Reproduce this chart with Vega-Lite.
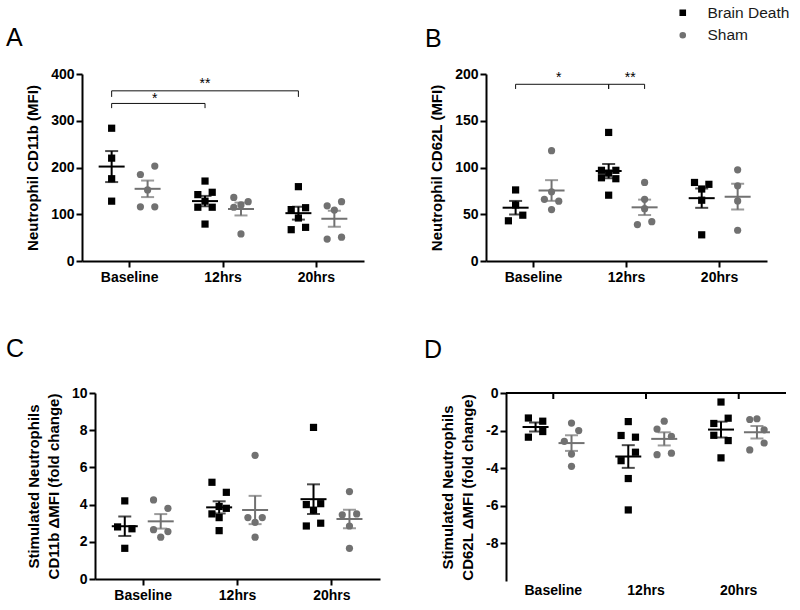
{
  "$schema": "https://vega.github.io/schema/vega-lite/v6.json",
  "padding": {"left": 6, "top": 5, "right": 5, "bottom": 5},
  "config": {
    "font": "Liberation Sans",
    "view": {"stroke": null},
    "axis": {"grid": false, "domainColor": "#000", "domainWidth": 2, "tickColor": "#000", "tickWidth": 2, "tickSize": 6,
      "labelFont": "Liberation Sans", "labelFontWeight": "bold", "labelFontSize": 14, "labelColor": "#000", "labelOverlap": false,
      "titleFont": "Liberation Sans", "titleFontWeight": "bold", "titleFontSize": 15, "titleColor": "#000", "titleLineHeight": 20},
    "axisY": {"labelPadding": 2, "titlePadding": 10},
    "axisX": {"labelPadding": 3, "labelAngle": 0},
    "title": {"font": "Liberation Sans", "fontSize": 25, "fontWeight": "normal", "anchor": "start", "color": "#000", "frame": "bounds"},
    "legend": {"orient": "none", "legendX": 669, "legendY": -69, "title": null, "labelFontSize": 15.5, "labelFontWeight": "normal", "labelFont": "Liberation Sans", "labelColor": "#1a1a1a", "symbolSize": 26, "rowPadding": 5.5, "labelOffset": 17, "padding": 0}
  },
  "datasets": {
    "A": [
      {"time": "Baseline", "group": "Brain Death", "slot": "Brain Death", "value": 284},
      {"time": "Baseline", "group": "Brain Death", "slot": "Brain Death", "value": 220},
      {"time": "Baseline", "group": "Brain Death", "slot": "Brain Death", "value": 176},
      {"time": "Baseline", "group": "Brain Death", "slot": "Brain Death", "value": 128},
      {"time": "Baseline", "group": "Sham", "slot": "S+1", "value": 203},
      {"time": "Baseline", "group": "Sham", "slot": "S-1", "value": 185},
      {"time": "Baseline", "group": "Sham", "slot": "Sham", "value": 152},
      {"time": "Baseline", "group": "Sham", "slot": "S-1", "value": 116},
      {"time": "Baseline", "group": "Sham", "slot": "S+1", "value": 116},
      {"time": "12hrs", "group": "Brain Death", "slot": "Brain Death", "value": 171},
      {"time": "12hrs", "group": "Brain Death", "slot": "B-1", "value": 142},
      {"time": "12hrs", "group": "Brain Death", "slot": "B+1", "value": 147},
      {"time": "12hrs", "group": "Brain Death", "slot": "Brain Death", "value": 128},
      {"time": "12hrs", "group": "Brain Death", "slot": "B-1", "value": 115},
      {"time": "12hrs", "group": "Brain Death", "slot": "B+1", "value": 115},
      {"time": "12hrs", "group": "Brain Death", "slot": "Brain Death", "value": 79},
      {"time": "12hrs", "group": "Sham", "slot": "S-1", "value": 136},
      {"time": "12hrs", "group": "Sham", "slot": "S+1", "value": 127},
      {"time": "12hrs", "group": "Sham", "slot": "Sham", "value": 120},
      {"time": "12hrs", "group": "Sham", "slot": "S-1", "value": 115},
      {"time": "12hrs", "group": "Sham", "slot": "Sham", "value": 58},
      {"time": "20hrs", "group": "Brain Death", "slot": "Brain Death", "value": 159},
      {"time": "20hrs", "group": "Brain Death", "slot": "B-1", "value": 110},
      {"time": "20hrs", "group": "Brain Death", "slot": "B+1", "value": 114},
      {"time": "20hrs", "group": "Brain Death", "slot": "Brain Death", "value": 92},
      {"time": "20hrs", "group": "Brain Death", "slot": "B-1", "value": 67},
      {"time": "20hrs", "group": "Brain Death", "slot": "B+1", "value": 72},
      {"time": "20hrs", "group": "Sham", "slot": "S-1", "value": 118},
      {"time": "20hrs", "group": "Sham", "slot": "S+1", "value": 127},
      {"time": "20hrs", "group": "Sham", "slot": "Sham", "value": 109},
      {"time": "20hrs", "group": "Sham", "slot": "S-1", "value": 47},
      {"time": "20hrs", "group": "Sham", "slot": "S+1", "value": 51}
    ],
    "B": [
      {"time": "Baseline", "group": "Brain Death", "slot": "Brain Death", "value": 76},
      {"time": "Baseline", "group": "Brain Death", "slot": "Brain Death", "value": 60},
      {"time": "Baseline", "group": "Brain Death", "slot": "B+1", "value": 49},
      {"time": "Baseline", "group": "Brain Death", "slot": "B-1", "value": 43},
      {"time": "Baseline", "group": "Sham", "slot": "Sham", "value": 118},
      {"time": "Baseline", "group": "Sham", "slot": "Sham", "value": 74},
      {"time": "Baseline", "group": "Sham", "slot": "S-1", "value": 66},
      {"time": "Baseline", "group": "Sham", "slot": "S+1", "value": 64},
      {"time": "Baseline", "group": "Sham", "slot": "Sham", "value": 55},
      {"time": "12hrs", "group": "Brain Death", "slot": "Brain Death", "value": 137.5},
      {"time": "12hrs", "group": "Brain Death", "slot": "B-1", "value": 97},
      {"time": "12hrs", "group": "Brain Death", "slot": "B+1", "value": 97},
      {"time": "12hrs", "group": "Brain Death", "slot": "Brain Death", "value": 94},
      {"time": "12hrs", "group": "Brain Death", "slot": "B-1", "value": 89},
      {"time": "12hrs", "group": "Brain Death", "slot": "B+1", "value": 88},
      {"time": "12hrs", "group": "Brain Death", "slot": "Brain Death", "value": 70.4},
      {"time": "12hrs", "group": "Sham", "slot": "Sham", "value": 84},
      {"time": "12hrs", "group": "Sham", "slot": "Sham", "value": 66},
      {"time": "12hrs", "group": "Sham", "slot": "Sham", "value": 56},
      {"time": "12hrs", "group": "Sham", "slot": "S-1", "value": 39},
      {"time": "12hrs", "group": "Sham", "slot": "S+1", "value": 42},
      {"time": "20hrs", "group": "Brain Death", "slot": "B-1", "value": 84},
      {"time": "20hrs", "group": "Brain Death", "slot": "B+1", "value": 82},
      {"time": "20hrs", "group": "Brain Death", "slot": "Brain Death", "value": 77},
      {"time": "20hrs", "group": "Brain Death", "slot": "Brain Death", "value": 65},
      {"time": "20hrs", "group": "Brain Death", "slot": "Brain Death", "value": 28},
      {"time": "20hrs", "group": "Sham", "slot": "Sham", "value": 97.5},
      {"time": "20hrs", "group": "Sham", "slot": "Sham", "value": 80.4},
      {"time": "20hrs", "group": "Sham", "slot": "Sham", "value": 64.3},
      {"time": "20hrs", "group": "Sham", "slot": "Sham", "value": 32.9}
    ],
    "C": [
      {"time": "Baseline", "group": "Brain Death", "slot": "Brain Death", "value": 4.2},
      {"time": "Baseline", "group": "Brain Death", "slot": "B-1", "value": 2.8},
      {"time": "Baseline", "group": "Brain Death", "slot": "B+1", "value": 2.7},
      {"time": "Baseline", "group": "Brain Death", "slot": "Brain Death", "value": 1.65},
      {"time": "Baseline", "group": "Sham", "slot": "S-1", "value": 4.25},
      {"time": "Baseline", "group": "Sham", "slot": "S+1", "value": 3.8},
      {"time": "Baseline", "group": "Sham", "slot": "S-1", "value": 2.65},
      {"time": "Baseline", "group": "Sham", "slot": "S+1", "value": 2.55},
      {"time": "Baseline", "group": "Sham", "slot": "Sham", "value": 2.25},
      {"time": "12hrs", "group": "Brain Death", "slot": "B-1", "value": 5.2},
      {"time": "12hrs", "group": "Brain Death", "slot": "B+1", "value": 4.66},
      {"time": "12hrs", "group": "Brain Death", "slot": "Brain Death", "value": 3.9},
      {"time": "12hrs", "group": "Brain Death", "slot": "B+1", "value": 3.8},
      {"time": "12hrs", "group": "Brain Death", "slot": "B-1", "value": 3.5},
      {"time": "12hrs", "group": "Brain Death", "slot": "Brain Death", "value": 3.3},
      {"time": "12hrs", "group": "Brain Death", "slot": "Brain Death", "value": 2.6},
      {"time": "12hrs", "group": "Sham", "slot": "Sham", "value": 6.65},
      {"time": "12hrs", "group": "Sham", "slot": "S-1", "value": 3.3},
      {"time": "12hrs", "group": "Sham", "slot": "S+1", "value": 3.3},
      {"time": "12hrs", "group": "Sham", "slot": "Sham", "value": 3.05},
      {"time": "12hrs", "group": "Sham", "slot": "Sham", "value": 2.25},
      {"time": "20hrs", "group": "Brain Death", "slot": "Brain Death", "value": 8.15},
      {"time": "20hrs", "group": "Brain Death", "slot": "B-1", "value": 4.0},
      {"time": "20hrs", "group": "Brain Death", "slot": "B+1", "value": 4.05},
      {"time": "20hrs", "group": "Brain Death", "slot": "Brain Death", "value": 3.7},
      {"time": "20hrs", "group": "Brain Death", "slot": "B-1", "value": 2.85},
      {"time": "20hrs", "group": "Brain Death", "slot": "B+1", "value": 3.0},
      {"time": "20hrs", "group": "Sham", "slot": "Sham", "value": 4.7},
      {"time": "20hrs", "group": "Sham", "slot": "S-1", "value": 3.45},
      {"time": "20hrs", "group": "Sham", "slot": "S+1", "value": 3.5},
      {"time": "20hrs", "group": "Sham", "slot": "Sham", "value": 2.85},
      {"time": "20hrs", "group": "Sham", "slot": "Sham", "value": 1.65}
    ],
    "D": [
      {"time": "Baseline", "group": "Brain Death", "slot": "B-1", "value": -1.33},
      {"time": "Baseline", "group": "Brain Death", "slot": "B+1", "value": -1.5},
      {"time": "Baseline", "group": "Brain Death", "slot": "B+1", "value": -2.05},
      {"time": "Baseline", "group": "Brain Death", "slot": "B-1", "value": -2.35},
      {"time": "Baseline", "group": "Sham", "slot": "Sham", "value": -1.6},
      {"time": "Baseline", "group": "Sham", "slot": "S+1", "value": -2.0},
      {"time": "Baseline", "group": "Sham", "slot": "S-1", "value": -2.57},
      {"time": "Baseline", "group": "Sham", "slot": "Sham", "value": -3.25},
      {"time": "Baseline", "group": "Sham", "slot": "Sham", "value": -3.9},
      {"time": "12hrs", "group": "Brain Death", "slot": "Brain Death", "value": -1.52},
      {"time": "12hrs", "group": "Brain Death", "slot": "B-1", "value": -2.26},
      {"time": "12hrs", "group": "Brain Death", "slot": "B+1", "value": -2.35},
      {"time": "12hrs", "group": "Brain Death", "slot": "B+1", "value": -3.15},
      {"time": "12hrs", "group": "Brain Death", "slot": "B-1", "value": -3.6},
      {"time": "12hrs", "group": "Brain Death", "slot": "Brain Death", "value": -4.55},
      {"time": "12hrs", "group": "Brain Death", "slot": "Brain Death", "value": -6.22},
      {"time": "12hrs", "group": "Sham", "slot": "Sham", "value": -1.5},
      {"time": "12hrs", "group": "Sham", "slot": "S-1", "value": -1.92},
      {"time": "12hrs", "group": "Sham", "slot": "S+1", "value": -2.3},
      {"time": "12hrs", "group": "Sham", "slot": "S-1", "value": -3.28},
      {"time": "12hrs", "group": "Sham", "slot": "S+1", "value": -3.2},
      {"time": "20hrs", "group": "Brain Death", "slot": "Brain Death", "value": -0.48},
      {"time": "20hrs", "group": "Brain Death", "slot": "B+1", "value": -1.34},
      {"time": "20hrs", "group": "Brain Death", "slot": "B-1", "value": -1.62},
      {"time": "20hrs", "group": "Brain Death", "slot": "B-1", "value": -2.25},
      {"time": "20hrs", "group": "Brain Death", "slot": "B+1", "value": -2.53},
      {"time": "20hrs", "group": "Brain Death", "slot": "Brain Death", "value": -3.45},
      {"time": "20hrs", "group": "Sham", "slot": "S-1", "value": -1.41},
      {"time": "20hrs", "group": "Sham", "slot": "Sham", "value": -1.37},
      {"time": "20hrs", "group": "Sham", "slot": "S+1", "value": -1.96},
      {"time": "20hrs", "group": "Sham", "slot": "S+1", "value": -2.66},
      {"time": "20hrs", "group": "Sham", "slot": "S-1", "value": -3.03}
    ],
    "bracketA": [
      {"id": "a1", "step": 0, "time": "Baseline", "slot": "Brain Death", "value": 327},
      {"id": "a1", "step": 1, "time": "Baseline", "slot": "Brain Death", "value": 337},
      {"id": "a1", "step": 2, "time": "12hrs", "slot": "Brain Death", "value": 337},
      {"id": "a1", "step": 3, "time": "12hrs", "slot": "Brain Death", "value": 327},
      {"id": "a2", "step": 0, "time": "Baseline", "slot": "Brain Death", "value": 351},
      {"id": "a2", "step": 1, "time": "Baseline", "slot": "Brain Death", "value": 364},
      {"id": "a2", "step": 2, "time": "20hrs", "slot": "Brain Death", "value": 364},
      {"id": "a2", "step": 3, "time": "20hrs", "slot": "Brain Death", "value": 351}
    ],
    "starA": [
      {"time": "Baseline", "slot": "S+1", "value": 337, "label": "*"},
      {"time": "12hrs", "slot": "Brain Death", "value": 370, "label": "**"}
    ],
    "bracketB": [
      {"id": "b1", "step": 0, "time": "Baseline", "slot": "Brain Death", "value": 184},
      {"id": "b1", "step": 1, "time": "Baseline", "slot": "Brain Death", "value": 189},
      {"id": "b1", "step": 2, "time": "12hrs", "slot": "Brain Death", "value": 189},
      {"id": "b1", "step": 3, "time": "12hrs", "slot": "Brain Death", "value": 184},
      {"id": "b2", "step": 0, "time": "12hrs", "slot": "Brain Death", "value": 184},
      {"id": "b2", "step": 1, "time": "12hrs", "slot": "Brain Death", "value": 189},
      {"id": "b2", "step": 2, "time": "12hrs", "slot": "Sham", "value": 189},
      {"id": "b2", "step": 3, "time": "12hrs", "slot": "Sham", "value": 184}
    ],
    "starB": [
      {"time": "Baseline", "slot": "S+1", "value": 191, "label": "*"},
      {"time": "12hrs", "slot": "S-2", "value": 191, "label": "**"}
    ],
    "topline": [{"value": 0}]
  },
  "spacing": 53,
  "vconcat": [
    {
      "spacing": 0,
      "hconcat": [
        {"width": 19, "height": 187, "title": {"text": "A", "offset": 23}, "data": {"values": []}, "mark": "point"},
        {
          "width": 343, "height": 187,
          "encoding": {"x": {"field": "time", "type": "nominal", "sort": ["Baseline", "12hrs", "20hrs"], "scale": {"paddingInner": 0.23, "paddingOuter": 0.125, "range": [0, 282]}, "axis": {"title": null}}},
          "layer": [
            {"data": {"name": "A"}, "mark": {"type": "point", "filled": true, "size": 52, "opacity": 1},
              "encoding": {
                "xOffset": {"field": "slot", "type": "nominal", "scale": {"domain": ["B-2", "B-1", "Brain Death", "B+1", "B+2", "S-2", "S-1", "Sham", "S+1", "S+2"], "paddingInner": 0, "paddingOuter": 0}},
                "y": {"field": "value", "type": "quantitative", "title": "Neutrophil CD11b (MFI)", "scale": {"domain": [0, 400], "nice": false}, "axis": {"values": [0, 100, 200, 300, 400]}},
                "color": {"field": "group", "type": "nominal", "scale": {"domain": ["Brain Death", "Sham"], "range": ["#000000", "#717171"]}},
                "shape": {"field": "group", "type": "nominal", "scale": {"domain": ["Brain Death", "Sham"], "range": ["square", "circle"]}}}},
            {"data": {"name": "A"}, "mark": {"type": "errorbar", "extent": "stderr", "ticks": true, "size": 13, "thickness": 2},
              "encoding": {
                "xOffset": {"field": "group", "type": "nominal", "scale": {"domain": ["B-2", "B-1", "Brain Death", "B+1", "B+2", "S-2", "S-1", "Sham", "S+1", "S+2"], "paddingInner": 0, "paddingOuter": 0}},
                "y": {"field": "value", "type": "quantitative", "title": "Neutrophil CD11b (MFI)", "scale": {"domain": [0, 400], "nice": false}, "axis": {"values": [0, 100, 200, 300, 400]}},
                "color": {"field": "group", "type": "nominal"}}},
            {"data": {"name": "A"}, "mark": {"type": "tick", "size": 26, "thickness": 2},
              "encoding": {
                "xOffset": {"field": "group", "type": "nominal", "scale": {"domain": ["B-2", "B-1", "Brain Death", "B+1", "B+2", "S-2", "S-1", "Sham", "S+1", "S+2"], "paddingInner": 0, "paddingOuter": 0}},
                "y": {"aggregate": "mean", "field": "value", "type": "quantitative", "title": "Neutrophil CD11b (MFI)", "scale": {"domain": [0, 400], "nice": false}, "axis": {"values": [0, 100, 200, 300, 400]}},
                "color": {"field": "group", "type": "nominal"}}},
            {"data": {"name": "bracketA"}, "mark": {"type": "line", "color": "#111", "strokeWidth": 1},
              "encoding": {
                "x": {"field": "time", "type": "nominal", "sort": ["Baseline", "12hrs", "20hrs"], "bandPosition": 0.5},
                "xOffset": {"field": "slot", "type": "nominal", "scale": {"domain": ["B-2", "B-1", "Brain Death", "B+1", "B+2", "S-2", "S-1", "Sham", "S+1", "S+2"], "paddingInner": 0, "paddingOuter": 0}},
                "y": {"field": "value", "type": "quantitative", "title": "Neutrophil CD11b (MFI)", "scale": {"domain": [0, 400], "nice": false}, "axis": {"values": [0, 100, 200, 300, 400]}},
                "detail": {"field": "id"}, "order": {"field": "step"}}},
            {"data": {"name": "starA"}, "mark": {"type": "text", "fontSize": 14, "baseline": "alphabetic", "color": "#000"},
              "encoding": {
                "xOffset": {"field": "slot", "type": "nominal", "scale": {"domain": ["B-2", "B-1", "Brain Death", "B+1", "B+2", "S-2", "S-1", "Sham", "S+1", "S+2"], "paddingInner": 0, "paddingOuter": 0}},
                "y": {"field": "value", "type": "quantitative", "title": "Neutrophil CD11b (MFI)", "scale": {"domain": [0, 400], "nice": false}, "axis": {"values": [0, 100, 200, 300, 400]}},
                "text": {"field": "label"}}}
          ]
        },
        {
          "width": 281, "height": 187,
          "title": {"text": "B", "dx": -4.6, "offset": 15},
          "encoding": {"x": {"field": "time", "type": "nominal", "sort": ["Baseline", "12hrs", "20hrs"], "scale": {"paddingInner": 0.23, "paddingOuter": 0.125}, "axis": {"title": null}}},
          "layer": [
            {"data": {"name": "B"}, "mark": {"type": "point", "filled": true, "size": 52, "opacity": 1},
              "encoding": {
                "xOffset": {"field": "slot", "type": "nominal", "scale": {"domain": ["B-2", "B-1", "Brain Death", "B+1", "B+2", "S-2", "S-1", "Sham", "S+1", "S+2"], "paddingInner": 0, "paddingOuter": 0}},
                "y": {"field": "value", "type": "quantitative", "title": "Neutrophil CD62L (MFI)", "scale": {"domain": [0, 200], "nice": false}, "axis": {"values": [0, 50, 100, 150, 200]}},
                "color": {"field": "group", "type": "nominal", "scale": {"domain": ["Brain Death", "Sham"], "range": ["#000000", "#717171"]}},
                "shape": {"field": "group", "type": "nominal", "scale": {"domain": ["Brain Death", "Sham"], "range": ["square", "circle"]}}}},
            {"data": {"name": "B"}, "mark": {"type": "errorbar", "extent": "stderr", "ticks": true, "size": 13, "thickness": 2},
              "encoding": {
                "xOffset": {"field": "group", "type": "nominal", "scale": {"domain": ["B-2", "B-1", "Brain Death", "B+1", "B+2", "S-2", "S-1", "Sham", "S+1", "S+2"], "paddingInner": 0, "paddingOuter": 0}},
                "y": {"field": "value", "type": "quantitative", "title": "Neutrophil CD62L (MFI)", "scale": {"domain": [0, 200], "nice": false}, "axis": {"values": [0, 50, 100, 150, 200]}},
                "color": {"field": "group", "type": "nominal"}}},
            {"data": {"name": "B"}, "mark": {"type": "tick", "size": 26, "thickness": 2},
              "encoding": {
                "xOffset": {"field": "group", "type": "nominal", "scale": {"domain": ["B-2", "B-1", "Brain Death", "B+1", "B+2", "S-2", "S-1", "Sham", "S+1", "S+2"], "paddingInner": 0, "paddingOuter": 0}},
                "y": {"aggregate": "mean", "field": "value", "type": "quantitative", "title": "Neutrophil CD62L (MFI)", "scale": {"domain": [0, 200], "nice": false}, "axis": {"values": [0, 50, 100, 150, 200]}},
                "color": {"field": "group", "type": "nominal"}}},
            {"data": {"name": "bracketB"}, "mark": {"type": "line", "color": "#111", "strokeWidth": 1},
              "encoding": {
                "x": {"field": "time", "type": "nominal", "sort": ["Baseline", "12hrs", "20hrs"], "bandPosition": 0.5},
                "xOffset": {"field": "slot", "type": "nominal", "scale": {"domain": ["B-2", "B-1", "Brain Death", "B+1", "B+2", "S-2", "S-1", "Sham", "S+1", "S+2"], "paddingInner": 0, "paddingOuter": 0}},
                "y": {"field": "value", "type": "quantitative", "title": "Neutrophil CD62L (MFI)", "scale": {"domain": [0, 200], "nice": false}, "axis": {"values": [0, 50, 100, 150, 200]}},
                "detail": {"field": "id"}, "order": {"field": "step"}}},
            {"data": {"name": "starB"}, "mark": {"type": "text", "fontSize": 14, "baseline": "alphabetic", "color": "#000"},
              "encoding": {
                "xOffset": {"field": "slot", "type": "nominal", "scale": {"domain": ["B-2", "B-1", "Brain Death", "B+1", "B+2", "S-2", "S-1", "Sham", "S+1", "S+2"], "paddingInner": 0, "paddingOuter": 0}},
                "y": {"field": "value", "type": "quantitative", "title": "Neutrophil CD62L (MFI)", "scale": {"domain": [0, 200], "nice": false}, "axis": {"values": [0, 50, 100, 150, 200]}},
                "text": {"field": "label"}}}
          ]
        }
      ]
    },
    {
      "spacing": 0,
      "hconcat": [
        {"width": 20, "height": 186, "title": {"text": "C", "offset": 31}, "data": {"values": []}, "mark": "point"},
        {
          "width": 329, "height": 186,
          "encoding": {"x": {"field": "time", "type": "nominal", "sort": ["Baseline", "12hrs", "20hrs"], "scale": {"paddingInner": 0.23, "paddingOuter": 0.125, "range": [0, 285]}, "axis": {"title": null}}},
          "layer": [
            {"data": {"name": "C"}, "mark": {"type": "point", "filled": true, "size": 52, "opacity": 1},
              "encoding": {
                "xOffset": {"field": "slot", "type": "nominal", "scale": {"domain": ["B-2", "B-1", "Brain Death", "B+1", "B+2", "S-2", "S-1", "Sham", "S+1", "S+2"], "paddingInner": 0, "paddingOuter": 0}},
                "y": {"field": "value", "type": "quantitative", "title": ["Stimulated Neutrophils", "CD11b ΔMFI (fold change)"], "scale": {"domain": [0, 10], "nice": false}, "axis": {"values": [0, 2, 4, 6, 8, 10]}},
                "color": {"field": "group", "type": "nominal", "scale": {"domain": ["Brain Death", "Sham"], "range": ["#000000", "#717171"]}},
                "shape": {"field": "group", "type": "nominal", "scale": {"domain": ["Brain Death", "Sham"], "range": ["square", "circle"]}}}},
            {"data": {"name": "C"}, "mark": {"type": "errorbar", "extent": "stderr", "ticks": true, "size": 13, "thickness": 2},
              "encoding": {
                "xOffset": {"field": "group", "type": "nominal", "scale": {"domain": ["B-2", "B-1", "Brain Death", "B+1", "B+2", "S-2", "S-1", "Sham", "S+1", "S+2"], "paddingInner": 0, "paddingOuter": 0}},
                "y": {"field": "value", "type": "quantitative", "title": ["Stimulated Neutrophils", "CD11b ΔMFI (fold change)"], "scale": {"domain": [0, 10], "nice": false}, "axis": {"values": [0, 2, 4, 6, 8, 10]}},
                "color": {"field": "group", "type": "nominal"}}},
            {"data": {"name": "C"}, "mark": {"type": "tick", "size": 26, "thickness": 2},
              "encoding": {
                "xOffset": {"field": "group", "type": "nominal", "scale": {"domain": ["B-2", "B-1", "Brain Death", "B+1", "B+2", "S-2", "S-1", "Sham", "S+1", "S+2"], "paddingInner": 0, "paddingOuter": 0}},
                "y": {"aggregate": "mean", "field": "value", "type": "quantitative", "title": ["Stimulated Neutrophils", "CD11b ΔMFI (fold change)"], "scale": {"domain": [0, 10], "nice": false}, "axis": {"values": [0, 2, 4, 6, 8, 10]}},
                "color": {"field": "group", "type": "nominal"}}}
          ]
        },
        {
          "width": 280, "height": 188,
          "title": {"text": "D", "dx": -16.5, "offset": 23},
          "encoding": {"x": {"field": "time", "type": "nominal", "sort": ["Baseline", "12hrs", "20hrs"], "scale": {"paddingInner": 0.23, "paddingOuter": 0.125}, "axis": {"title": null, "domain": false, "ticks": false, "tickSize": 0, "labelPadding": 2}}},
          "layer": [
            {"data": {"name": "D"}, "mark": {"type": "point", "filled": true, "size": 52, "opacity": 1},
              "encoding": {
                "xOffset": {"field": "slot", "type": "nominal", "scale": {"domain": ["B-2", "B-1", "Brain Death", "B+1", "B+2", "S-2", "S-1", "Sham", "S+1", "S+2"], "paddingInner": 0, "paddingOuter": 0}},
                "y": {"field": "value", "type": "quantitative", "title": ["Stimulated Neutrophils", "CD62L ΔMFI (fold change)"], "scale": {"domain": [-10, 0], "nice": false}, "axis": {"values": [0, -2, -4, -6, -8], "labelExpr": "'' + datum.value"}},
                "color": {"field": "group", "type": "nominal", "scale": {"domain": ["Brain Death", "Sham"], "range": ["#000000", "#717171"]}},
                "shape": {"field": "group", "type": "nominal", "scale": {"domain": ["Brain Death", "Sham"], "range": ["square", "circle"]}}}},
            {"data": {"name": "D"}, "mark": {"type": "errorbar", "extent": "stderr", "ticks": true, "size": 13, "thickness": 2},
              "encoding": {
                "xOffset": {"field": "group", "type": "nominal", "scale": {"domain": ["B-2", "B-1", "Brain Death", "B+1", "B+2", "S-2", "S-1", "Sham", "S+1", "S+2"], "paddingInner": 0, "paddingOuter": 0}},
                "y": {"field": "value", "type": "quantitative", "title": ["Stimulated Neutrophils", "CD62L ΔMFI (fold change)"], "scale": {"domain": [-10, 0], "nice": false}, "axis": {"values": [0, -2, -4, -6, -8], "labelExpr": "'' + datum.value"}},
                "color": {"field": "group", "type": "nominal"}}},
            {"data": {"name": "D"}, "mark": {"type": "tick", "size": 26, "thickness": 2},
              "encoding": {
                "xOffset": {"field": "group", "type": "nominal", "scale": {"domain": ["B-2", "B-1", "Brain Death", "B+1", "B+2", "S-2", "S-1", "Sham", "S+1", "S+2"], "paddingInner": 0, "paddingOuter": 0}},
                "y": {"aggregate": "mean", "field": "value", "type": "quantitative", "title": ["Stimulated Neutrophils", "CD62L ΔMFI (fold change)"], "scale": {"domain": [-10, 0], "nice": false}, "axis": {"values": [0, -2, -4, -6, -8], "labelExpr": "'' + datum.value"}},
                "color": {"field": "group", "type": "nominal"}}},
            {"data": {"name": "topline"}, "mark": {"type": "rule", "color": "#000", "strokeWidth": 2},
              "encoding": {"x": null, "y": {"field": "value", "type": "quantitative", "title": ["Stimulated Neutrophils", "CD62L ΔMFI (fold change)"], "scale": {"domain": [-10, 0], "nice": false}, "axis": {"values": [0, -2, -4, -6, -8], "labelExpr": "'' + datum.value"}}}},
            {"data": {"name": "D"}, "transform": [{"aggregate": [{"op": "count", "as": "n"}], "groupby": ["time"]}],
              "mark": {"type": "rule", "color": "#000", "strokeWidth": 2},
              "encoding": {
                "x": {"field": "time", "type": "nominal", "sort": ["Baseline", "12hrs", "20hrs"], "bandPosition": 0.5},
                "y": {"datum": 0}, "y2": {"datum": -0.32}}}
          ]
        }
      ]
    }
  ]
}
